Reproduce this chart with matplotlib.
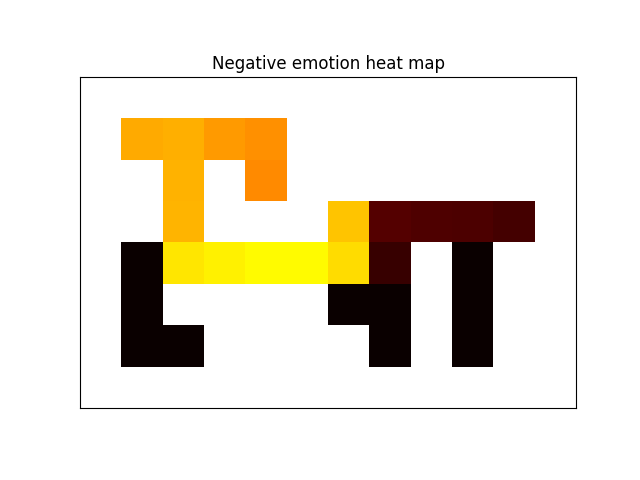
import numpy as np
import matplotlib
matplotlib.use("Agg")
import matplotlib.pyplot as plt

nan = np.nan

# negative emotion score per grid cell (empty cells are nan)
row0 = [nan] * 12
row1 = [nan, 0.619, 0.628, 0.594, 0.580, nan, nan, nan, nan, nan, nan, nan]
row2 = [nan, nan, 0.630, nan, 0.574, nan, nan, nan, nan, nan, nan, nan]
row3 = [nan, nan, 0.634, nan, nan, nan, 0.658, 0.111, 0.104, 0.100, 0.086, nan]
row4 = [nan, 0.0, 0.709, 0.724, 0.742, 0.742, 0.695, 0.068, nan, 0.0, nan, nan]
row5 = [nan, 0.0, nan, nan, nan, nan, 0.0, 0.0, nan, 0.0, nan, nan]
row6 = [nan, 0.0, 0.0, nan, nan, nan, nan, 0.0, nan, 0.0, nan, nan]
row7 = [nan] * 12

grid = np.array([row0, row1, row2, row3, row4, row5, row6, row7])

fig, ax = plt.subplots(figsize=(6.4, 4.8))
ax.imshow(grid, cmap='hot', vmin=0, vmax=1)
ax.set_xticks([])
ax.set_yticks([])
ax.set_title('Negative emotion heat map')
plt.savefig('out.png')
